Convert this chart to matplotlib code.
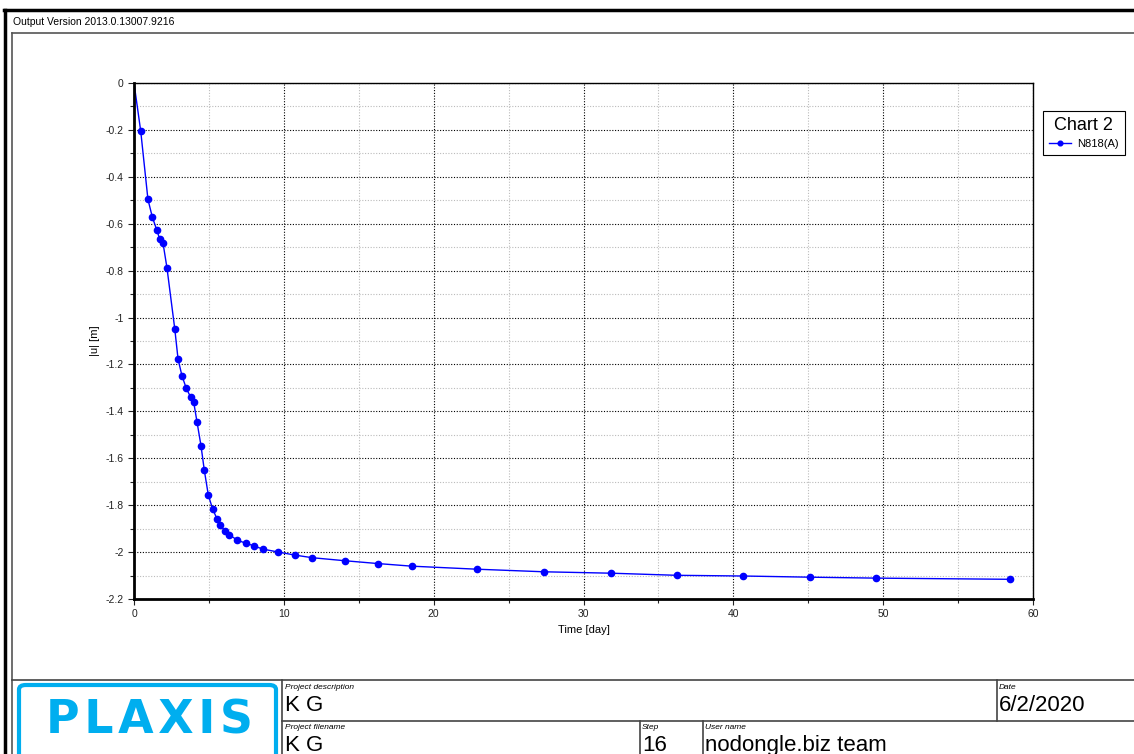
import matplotlib
matplotlib.use("Agg")
from matplotlib import pyplot as plt
from matplotlib.lines import Line2D
from matplotlib.patches import FancyBboxPatch
from matplotlib.ticker import MultipleLocator

plt.rcParams['font.family'] = ['Liberation Sans', 'DejaVu Sans']

# data
time_day = [0, 0.45, 0.93, 1.22, 1.51, 1.71, 1.94, 2.20, 2.72, 2.94, 3.20, 3.49,
            3.78, 3.98, 4.21, 4.47, 4.69, 4.96, 5.25, 5.54, 5.76, 6.05, 6.34,
            6.89, 7.45, 8.03, 8.58, 9.64, 10.76, 11.90, 14.1, 16.3, 18.53,
            22.9, 27.37, 31.85, 36.23, 40.67, 45.14, 49.52, 58.44]
u_m = [0, -0.206, -0.496, -0.571, -0.625, -0.664, -0.684, -0.788, -1.048,
       -1.177, -1.248, -1.302, -1.339, -1.359, -1.447, -1.546, -1.650, -1.757,
       -1.817, -1.858, -1.886, -1.908, -1.925, -1.949, -1.962, -1.974, -1.987,
       -2.000, -2.013, -2.024, -2.037, -2.049, -2.060, -2.073, -2.084, -2.090,
       -2.099, -2.102, -2.107, -2.111, -2.116]
series_name = "N818(A)"
chart_title = "Chart 2"

W, H = 1134, 754
def px(x): return x / W
def py(y): return 1 - y / H

fig = plt.figure(figsize=(W / 100, H / 100), dpi=100)

# page frames
fig.add_artist(Line2D([px(4), px(1134)], [py(10), py(10)], color='black', lw=2.5))
fig.add_artist(Line2D([px(4.5), px(4.5)], [py(10), py(754)], color='black', lw=2.5))
fig.add_artist(Line2D([px(12), px(1134)], [py(33), py(33)], color='#555555', lw=1.2))
fig.add_artist(Line2D([px(12), px(12)], [py(33), py(754)], color='#555555', lw=1.2))
fig.text(px(13), py(25), "Output Version 2013.0.13007.9216", fontsize=7.5, va='baseline')

ax = fig.add_axes([px(134), py(599), px(1033) - px(134), py(83) - py(599)])
ax.plot(time_day, u_m, color='#0000FF', lw=1, label=series_name,
        marker='o', markersize=4.5, markevery=range(1, len(time_day)))
ax.set_xlim(0, 60)
ax.set_ylim(-2.2, 0)
ax.xaxis.set_major_locator(MultipleLocator(10))
ax.xaxis.set_minor_locator(MultipleLocator(5))
ax.yaxis.set_major_locator(MultipleLocator(0.2))
ax.yaxis.set_minor_locator(MultipleLocator(0.1))
ax.yaxis.set_major_formatter(plt.FuncFormatter(lambda v, p: ('%g' % round(v, 1))))
ax.grid(which='major', color='black', ls=(0, (1, 1.5)), lw=0.8)
ax.grid(which='minor', color='#bbbbbb', ls=(0, (1, 1.5)), lw=0.8)
ax.set_axisbelow(True)
for s in ['left', 'bottom']:
    ax.spines[s].set_linewidth(2)
for s in ['top', 'right']:
    ax.spines[s].set_linewidth(1)
ax.tick_params(which='both', labelsize=7.5, length=4, width=0.8, colors='#222222')
ax.tick_params(which='minor', length=3)
ax.set_xlabel("Time [day]", fontsize=8, labelpad=4)
ax.set_ylabel("|u| [m]", fontsize=8, labelpad=4)

leg = ax.legend(title=chart_title, loc='upper left', bbox_to_anchor=(px(1043), py(111)),
                bbox_transform=fig.transFigure, fontsize=8, title_fontsize=13,
                fancybox=False, edgecolor='black', framealpha=1, borderpad=0.5,
                handlelength=2.0, handletextpad=0.6, borderaxespad=0, markerscale=0.75)
leg.get_frame().set_linewidth(0.8)
leg._legend_box.align = "center"

# title block
fig.add_artist(Line2D([px(12), px(1134)], [py(680), py(680)], color='#444444', lw=1.2))
fig.add_artist(Line2D([px(282), px(1134)], [py(721), py(721)], color='#444444', lw=1.2))
fig.add_artist(Line2D([px(282), px(282)], [py(680), py(754)], color='#444444', lw=1.2))
fig.add_artist(Line2D([px(640), px(640)], [py(721), py(754)], color='#444444', lw=1.2))
fig.add_artist(Line2D([px(703), px(703)], [py(721), py(754)], color='#444444', lw=1.2))
fig.add_artist(Line2D([px(997), px(997)], [py(680), py(721)], color='#444444', lw=1.2))

logo = FancyBboxPatch((px(19), py(760)), px(276) - px(19), py(685) - py(760),
                      boxstyle="round,pad=0,rounding_size=0.006", transform=fig.transFigure,
                      fill=False, edgecolor='#00AEEF', lw=3)
fig.add_artist(logo)
fig.text(px(149), py(721), "P L A X I S".replace(" ", "\u200a"), fontsize=33, fontweight='bold',
         family='DejaVu Sans', color='#00AEEF', ha='center', va='center')

cells = [(285, 689, "Project description", "K G"),
         (285, 729, "Project filename", "K G"),
         (642, 729, "Step", "16"),
         (705, 729, "User name", "nodongle.biz team"),
         (999, 689, "Date", "6/2/2020")]
for x, y, lab, val in cells:
    fig.text(px(x), py(y), lab, fontsize=6, style='italic', va='baseline')
    fig.text(px(x), py(y + 22), val, fontsize=16, va='baseline')

fig.savefig("out.png", dpi=100)
